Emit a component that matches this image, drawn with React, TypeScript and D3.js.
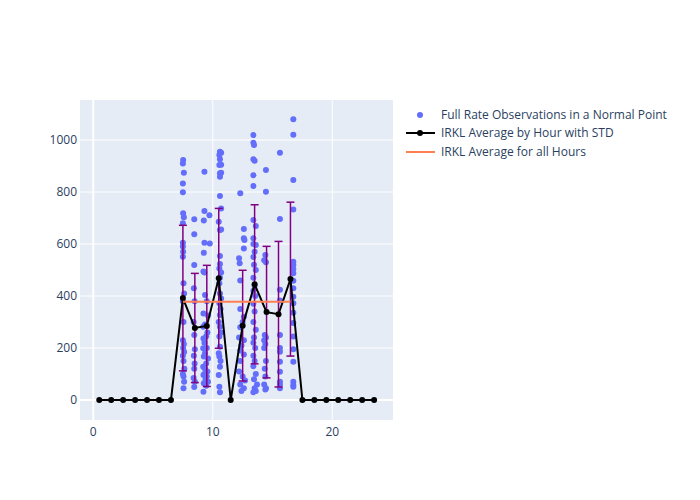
import React, { useEffect } from 'react';
import * as d3 from 'd3';

// observations [hour of day, value], grouped by hour
const obs07: [number, number][] = [
  [7.52, 923], [7.5, 910], [7.58, 874], [7.5, 833], [7.5, 799], [7.52, 718], [7.58, 703], [7.5, 680],
  [7.5, 605], [7.5, 590], [7.52, 570], [7.5, 551], [7.55, 449], [7.6, 410], [7.5, 380], [7.55, 300],
  [7.5, 230], [7.58, 215], [7.52, 200], [7.6, 185], [7.5, 170], [7.55, 150], [7.62, 120], [7.5, 100],
  [7.55, 90], [7.6, 70], [7.55, 45],
];
const obs08: [number, number][] = [
  [8.45, 695], [8.45, 638], [8.45, 519], [8.42, 430], [8.48, 380], [8.4, 300], [8.45, 250], [8.5, 195],
  [8.42, 170], [8.48, 140], [8.45, 120], [8.4, 85], [8.5, 70], [8.45, 50],
];
const obs09: [number, number][] = [
  [9.3, 878], [9.3, 727], [9.72, 711], [9.25, 690], [9.3, 605], [9.75, 602], [9.25, 566], [9.22, 494],
  [9.3, 490], [9.35, 404], [9.5, 380], [9.22, 333], [9.6, 325], [9.2, 282], [9.35, 290], [9.55, 260],
  [9.22, 237], [9.45, 245], [9.3, 220], [9.2, 199], [9.5, 200], [9.35, 180], [9.25, 167], [9.6, 160],
  [9.45, 140], [9.2, 128], [9.35, 120], [9.55, 110], [9.3, 100], [9.22, 96], [9.5, 90], [9.4, 80],
  [9.25, 64], [9.6, 70], [9.45, 55], [9.22, 32],
];
const obs10: [number, number][] = [
  [10.6, 955], [10.7, 951], [10.55, 942], [10.6, 926], [10.55, 904], [10.7, 905], [10.6, 872], [10.7, 874],
  [10.6, 859], [10.6, 785], [10.7, 737], [10.5, 686], [10.6, 654], [10.7, 656], [10.6, 554], [10.6, 523],
  [10.55, 506], [10.7, 490], [10.6, 470], [10.55, 449], [10.6, 410], [10.7, 390], [10.55, 372], [10.65, 350],
  [10.6, 327], [10.5, 300], [10.6, 282], [10.7, 260], [10.55, 244], [10.6, 205], [10.5, 180], [10.55, 167],
  [10.65, 150], [10.6, 128], [10.5, 96], [10.55, 51], [10.6, 30],
];
const obs12: [number, number][] = [
  [12.3, 795], [12.6, 658], [12.6, 622], [12.65, 615], [12.6, 583], [12.2, 545], [12.25, 526], [12.3, 460],
  [12.3, 350], [12.6, 320], [12.5, 300], [12.3, 280], [12.2, 240], [12.6, 230], [12.4, 210], [12.3, 190],
  [12.6, 175], [12.3, 150], [12.2, 110], [12.5, 90], [12.7, 75], [12.3, 60], [12.6, 45], [12.4, 35],
];
const obs13: [number, number][] = [
  [13.4, 1019], [13.4, 990], [13.45, 981], [13.4, 926], [13.5, 920], [13.4, 865], [13.4, 823], [13.4, 692],
  [13.6, 669], [13.4, 622], [13.4, 600], [13.6, 596], [13.5, 570], [13.4, 550], [13.45, 520], [13.6, 500],
  [13.4, 470], [13.5, 440], [13.4, 420], [13.55, 400], [13.4, 370], [13.5, 340], [13.4, 300], [13.6, 270],
  [13.45, 240], [13.4, 220], [13.55, 200], [13.4, 170], [13.5, 150], [13.4, 130], [13.6, 100], [13.45, 80],
  [13.7, 60], [13.5, 45], [13.6, 35], [13.4, 30],
];
const obs14: [number, number][] = [
  [14.45, 885], [14.45, 801], [14.4, 558], [14.3, 538], [14.45, 530], [14.35, 250], [14.45, 240], [14.3, 230],
  [14.4, 215], [14.3, 200], [14.45, 150], [14.35, 120], [14.4, 90], [14.3, 60], [14.45, 45], [14.4, 40],
];
const obs15: [number, number][] = [
  [15.62, 951], [15.62, 696], [15.62, 424], [15.62, 383], [15.62, 250], [15.62, 200], [15.62, 186],
  [15.62, 147], [15.62, 109], [15.62, 70], [15.62, 60], [15.62, 45],
];
const obs16: [number, number][] = [
  [16.74, 1080], [16.74, 1020], [16.74, 846], [16.74, 733], [16.74, 532], [16.74, 519], [16.74, 504],
  [16.74, 488], [16.74, 459], [16.74, 430], [16.74, 397], [16.74, 372], [16.74, 336], [16.74, 296],
  [16.74, 244], [16.74, 195], [16.74, 147], [16.74, 70], [16.74, 58], [16.74, 51],
];
const observations = [...obs07, ...obs08, ...obs09, ...obs10, ...obs12, ...obs13, ...obs14, ...obs15, ...obs16];

// hourly averages, plotted at hour + 0.5
const hourMid = [0.5, 1.5, 2.5, 3.5, 4.5, 5.5, 6.5, 7.5, 8.5, 9.5, 10.5, 11.5, 12.5, 13.5, 14.5, 15.5, 16.5, 17.5, 18.5, 19.5, 20.5, 21.5, 22.5, 23.5];
const hourAvg = [0, 0, 0, 0, 0, 0, 0, 392, 277, 285, 468, 0, 286, 445, 338, 330, 465, 0, 0, 0, 0, 0, 0, 0];
const hourStd = [0, 0, 0, 0, 0, 0, 0, 280, 210, 233, 269, 0, 213, 306, 253, 280, 296, 0, 0, 0, 0, 0, 0, 0];

const overallAvg = 378;
const overallSpan = [7.5, 16.5];

const xTicks = [0, 10, 20];
const yTicks = [0, 200, 400, 600, 800, 1000];

const legendLabels = [
  'Full Rate Observations in a Normal Point',
  'IRKL Average by Hour with STD',
  'IRKL Average for all Hours',
];

const W = 700;
const H = 500;
const plot = { left: 80, right: 393, top: 100, bottom: 420 };
const font = '"Open Sans", verdana, arial, sans-serif';
const textColor = '#2a3f5f';

const App: React.FC = () => {
  useEffect(() => {
    document.body.style.margin = '0';
  }, []);

  const x = d3.scaleLinear().domain([-1.11, 25.08]).range([plot.left, plot.right]);
  const y = d3.scaleLinear().domain([-77, 1154]).range([plot.bottom, plot.top]);

  const hourly = hourMid.map((h, i) => ({ h, avg: hourAvg[i], std: hourStd[i] }));
  const line = d3.line<{ h: number; avg: number }>()
    .x(d => x(d.h))
    .y(d => y(d.avg));

  return (
    <svg width={W} height={H} style={{ display: 'block', background: '#fff' }} fontFamily={font}>
      <rect x={plot.left} y={plot.top} width={plot.right - plot.left} height={plot.bottom - plot.top} fill="#E5ECF6" />
      {/* grid, zero lines a bit thicker */}
      {xTicks.map(t => (
        <line key={`gx${t}`} x1={x(t)} x2={x(t)} y1={plot.top} y2={plot.bottom} stroke="#fff" strokeWidth={t === 0 ? 2 : 1} />
      ))}
      {yTicks.map(t => (
        <line key={`gy${t}`} x1={plot.left} x2={plot.right} y1={y(t)} y2={y(t)} stroke="#fff" strokeWidth={t === 0 ? 2 : 1} />
      ))}
      {/* tick labels */}
      {xTicks.map(t => (
        <text key={`tx${t}`} x={x(t)} y={plot.bottom + 16} textAnchor="middle" fontSize={12} fill={textColor}>{t}</text>
      ))}
      {yTicks.map(t => (
        <text key={`ty${t}`} x={plot.left - 3} y={y(t) + 4} textAnchor="end" fontSize={12} fill={textColor}>{t}</text>
      ))}

      <g clipPath="url(#plotclip)">
        <defs>
          <clipPath id="plotclip">
            <rect x={plot.left} y={plot.top} width={plot.right - plot.left} height={plot.bottom - plot.top} />
          </clipPath>
        </defs>
        {/* observations */}
        {observations.map((d, i) => (
          <circle key={`o${i}`} cx={x(d[0])} cy={y(d[1])} r={3} fill="#636efa" />
        ))}
        {/* error bars */}
        {hourly.filter(d => d.std > 0).map((d, i) => (
          <g key={`e${i}`} stroke="purple" strokeWidth={1.5}>
            <line x1={x(d.h)} x2={x(d.h)} y1={y(d.avg - d.std)} y2={y(d.avg + d.std)} />
            <line x1={x(d.h) - 4} x2={x(d.h) + 4} y1={y(d.avg - d.std)} y2={y(d.avg - d.std)} />
            <line x1={x(d.h) - 4} x2={x(d.h) + 4} y1={y(d.avg + d.std)} y2={y(d.avg + d.std)} />
          </g>
        ))}
        {/* hourly average */}
        <path d={line(hourly) ?? ''} fill="none" stroke="black" strokeWidth={2} />
        {hourly.map((d, i) => (
          <circle key={`a${i}`} cx={x(d.h)} cy={y(d.avg)} r={3} fill="black" />
        ))}
        {/* overall average */}
        <line x1={x(overallSpan[0])} x2={x(overallSpan[1])} y1={y(overallAvg)} y2={y(overallAvg)} stroke="coral" strokeWidth={2} />
      </g>

      {/* legend */}
      <g fontSize={12} fill={textColor}>
        <circle cx={420} cy={115} r={3} fill="#636efa" />
        <text x={441} y={119}>{legendLabels[0]}</text>
        <line x1={406} x2={435} y1={133} y2={133} stroke="black" strokeWidth={2} />
        <circle cx={420} cy={133} r={3} fill="black" />
        <text x={441} y={137}>{legendLabels[1]}</text>
        <line x1={406} x2={435} y1={152} y2={152} stroke="coral" strokeWidth={2} />
        <text x={441} y={156}>{legendLabels[2]}</text>
      </g>
    </svg>
  );
};

export default App;
